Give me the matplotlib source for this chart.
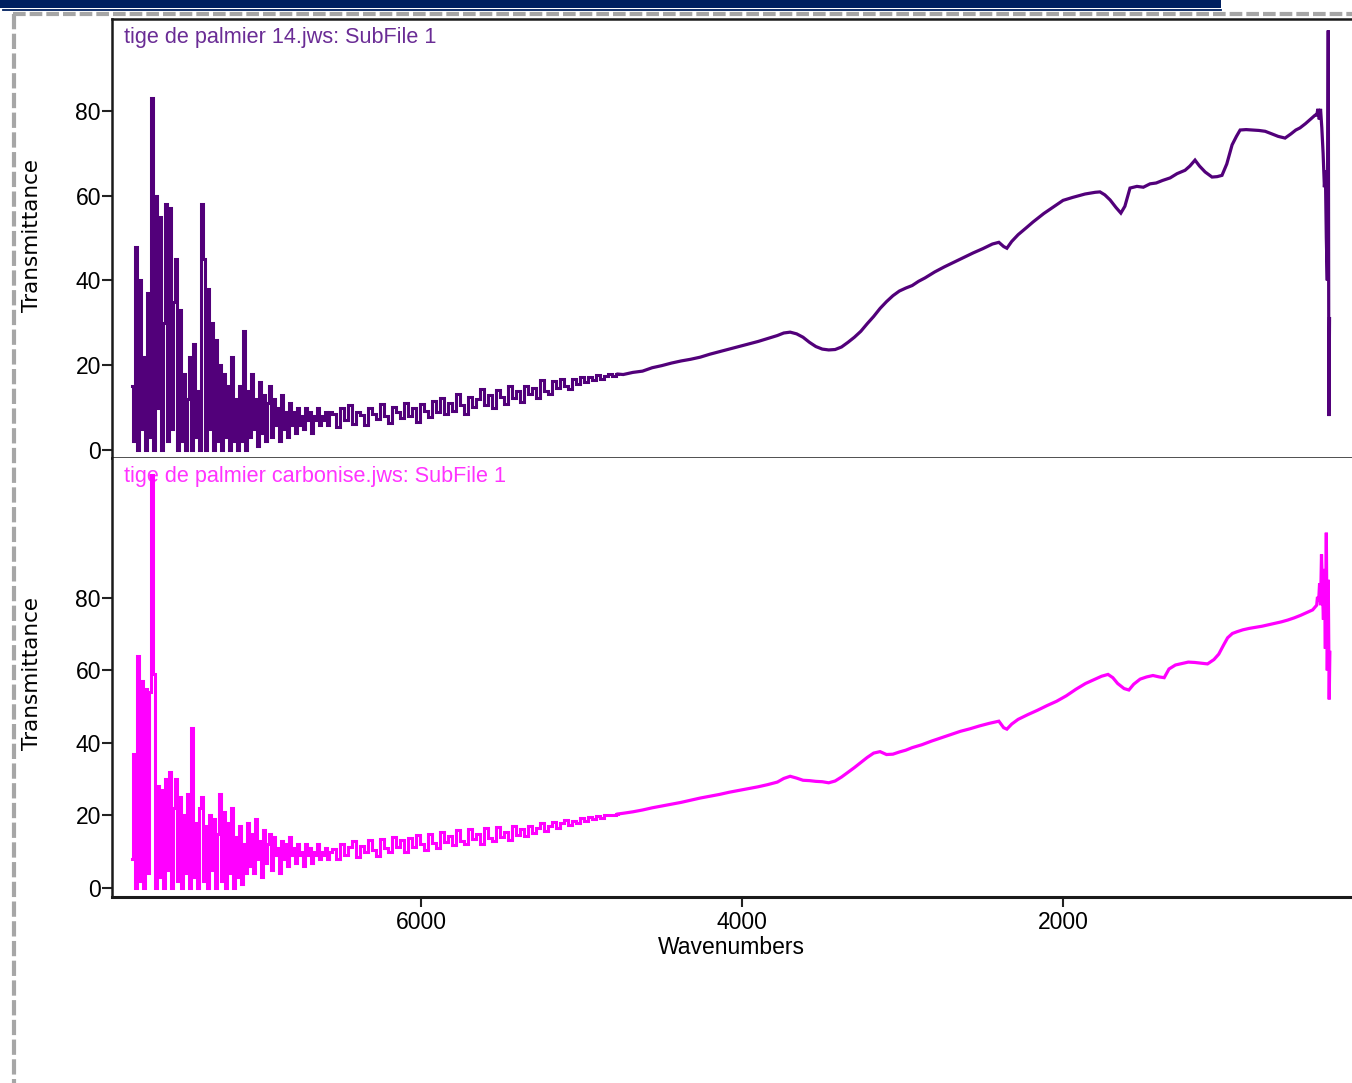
import numpy as np
import matplotlib
matplotlib.use("Agg")
import matplotlib.pyplot as plt
from matplotlib.lines import Line2D
from matplotlib.patches import Rectangle
from matplotlib import font_manager as fm

# ---------------------------------------------------------------- data
# Sample 1: raw palm stem (tige de palmier 14)
# noisy NIR region, evenly sampled between the given wavenumber bounds
top_a_range = (7800, 7090)
top_a = [15, 2, 48, 0, 40, 5, 22, 0, 37, 3, 83, 0, 60, 10, 55, 0, 30, 58, 2, 57,
         5, 35, 45, 0, 33, 2, 18, 0, 12, 22, 0, 25, 3, 14, 0, 58, 45, 0, 38, 5,
         30, 0, 26, 2, 20, 0, 18, 3, 15, 0, 22, 2, 12, 0, 15, 2, 28, 0]
top_b_range = (7078, 6567)
top_b = [14, 3, 18, 5, 12, 1, 16, 4, 13, 2, 11, 15, 3, 12, 6, 10, 2, 13, 5, 9,
         3, 11, 6, 9, 4, 10, 6, 8, 5, 10, 7, 9, 4, 8, 7, 10, 6, 8, 7, 9, 6, 9]
top_c_range = (6542, 4773)
top_c = [8.5, 5.5, 9.8, 7.0, 10.5, 6.2, 9.0, 8.3, 5.8, 9.9,
         8.6, 7.2, 10.8, 8.0, 6.4, 10.2, 8.9, 7.5, 11.0, 7.9,
         9.8, 6.6, 10.9, 9.2, 7.8, 11.6, 9.0, 12.3, 8.4, 11.0,
         9.1, 13.2, 10.5, 8.6, 12.4, 10.2, 12.0, 14.3, 10.6, 13.0,
         10.0, 14.2, 12.4, 10.8, 15.0, 12.2, 13.9, 11.2, 15.2, 13.3,
         14.6, 12.2, 16.4, 14.0, 13.2, 16.3, 14.6, 16.8, 15.1, 14.4,
         16.8, 15.5, 17.3, 16.0, 17.2, 16.4, 17.6, 16.8, 17.4, 17.9,
         17.4, 17.9]
# mid-IR region
top_d_wn = [4740, 4680, 4620, 4560, 4500, 4440, 4380, 4320, 4260, 4200,
            4140, 4080, 4020, 3960, 3900, 3840, 3780, 3740, 3700, 3660,
            3620, 3580, 3540, 3500, 3460, 3420, 3380, 3340, 3300, 3260,
            3220, 3180, 3140, 3100, 3060, 3020, 2980, 2940, 2900, 2860,
            2800, 2740, 2680, 2620, 2560, 2500, 2440, 2400, 2370, 2350,
            2320, 2280, 2230, 2187, 2120, 2062, 2000, 1940, 1863, 1800,
            1770, 1740, 1707, 1670, 1640, 1615, 1583, 1540, 1500, 1458,
            1420, 1380, 1333, 1290, 1240, 1210, 1178, 1150, 1115, 1072,
            1040, 1010, 980, 947, 920, 897, 860, 820, 780, 741,
            700, 660, 617, 580, 550, 524, 490, 460, 430,
            420, 412, 404, 396, 388, 380, 372, 366, 360, 354, 348, 344, 340]
top_d = [17.8, 18.3, 18.6, 19.4, 19.9, 20.5, 21.0, 21.4, 21.9, 22.6,
         23.2, 23.8, 24.4, 25.0, 25.6, 26.3, 27.0, 27.6, 27.8, 27.4,
         26.6, 25.4, 24.4, 23.8, 23.6, 23.7, 24.3, 25.4, 26.6, 28.0,
         29.8, 31.5, 33.4, 35.0, 36.4, 37.5, 38.2, 38.8, 39.8, 40.6,
         42.0, 43.2, 44.3, 45.4, 46.5, 47.5, 48.6, 49.0, 48.0, 47.6,
         49.2, 50.8, 52.4, 53.8, 55.8, 57.3, 58.9, 59.6, 60.4, 60.8,
         60.9, 60.2, 59.0, 57.2, 55.9, 57.5, 61.8, 62.2, 62.0, 62.8,
         63.0, 63.6, 64.2, 65.2, 66.0, 67.0, 68.4, 67.0, 65.6, 64.4,
         64.5, 64.8, 67.5, 72.0, 74.0, 75.5, 75.6, 75.5, 75.4, 75.2,
         74.6, 74.0, 73.6, 74.6, 75.5, 76.0, 77.0, 78.0, 79.0,
         79.0, 80.5, 78.0, 80.5, 76.0, 70.0, 62.0, 66.0, 50.0, 40.0, 99.0, 8.0, 31.0]

# Sample 2: carbonised palm stem (tige de palmier carbonise)
bot_a_range = (7800, 7090)
bot_a = [8, 37, 0, 64, 2, 57, 0, 55, 4, 54, 114, 59, 0, 28, 3, 27, 0, 30, 5, 32,
         0, 22, 30, 2, 25, 0, 20, 4, 26, 0, 44, 3, 18, 0, 22, 25, 2, 17, 0, 20,
         5, 19, 0, 15, 26, 2, 21, 0, 18, 4, 22, 0, 14, 3, 17, 1, 12, 4]
bot_b_range = (7078, 6567)
bot_b = [18, 6, 15, 4, 19, 8, 13, 3, 16, 7, 12, 15, 5, 14, 9, 11, 4, 13, 8, 12,
         6, 14, 9, 11, 7, 12, 9, 10, 6, 12, 9, 11, 7, 10, 9, 12, 8, 10, 9, 11, 8, 10]
bot_c_range = (6542, 4773)
bot_c = [10.8, 8.0, 12.2, 9.0, 11.4, 13.0, 8.6, 11.6, 9.8, 13.2,
         10.6, 8.9, 13.4, 11.0, 9.8, 14.0, 11.4, 13.2, 10.0, 13.8,
         11.4, 14.6, 12.0, 10.4, 15.0, 12.4, 11.0, 15.4, 12.6, 14.2,
         11.8, 16.0, 13.0, 12.0, 16.2, 13.4, 15.0, 12.2, 16.6, 13.8,
         13.0, 16.8, 14.0, 15.4, 13.2, 17.0, 14.6, 16.2, 14.2, 17.2,
         15.2, 16.4, 17.8, 15.6, 17.0, 18.2, 16.6, 17.8, 18.8, 17.4,
         18.6, 18.0, 19.2, 18.4, 19.5, 19.0, 19.8, 19.2, 20.0, 20.2,
         20.0, 20.4]
bot_d_wn = [4740, 4680, 4620, 4560, 4500, 4440, 4380, 4320, 4260, 4200,
            4140, 4080, 4020, 3960, 3900, 3840, 3780, 3740, 3700, 3660,
            3620, 3580, 3540, 3500, 3460, 3420, 3380, 3340, 3300, 3260,
            3220, 3180, 3140, 3100, 3060, 3020, 2980, 2940, 2880, 2820,
            2760, 2700, 2640, 2580, 2520, 2460, 2400, 2370, 2350, 2320,
            2280, 2220, 2160, 2100, 2040, 1980, 1920, 1860, 1800, 1760,
            1720, 1690, 1660, 1620, 1590, 1560, 1520, 1480, 1440, 1400,
            1370, 1340, 1300, 1260, 1220, 1180, 1140, 1100, 1060, 1030,
            1000, 975, 945, 915, 880, 840, 800, 760, 720, 680,
            640, 600, 560, 520, 480, 445, 420,
            415, 408, 402, 396, 390, 384, 378, 372, 366, 360, 354, 348, 342, 338]
bot_d = [20.6, 21.0, 21.5, 22.1, 22.6, 23.1, 23.6, 24.2, 24.8, 25.3,
         25.8, 26.4, 26.9, 27.4, 27.9, 28.5, 29.2, 30.2, 30.8, 30.3,
         29.7, 29.6, 29.4, 29.3, 29.0, 29.5, 30.6, 31.9, 33.2, 34.6,
         36.0, 37.2, 37.6, 36.8, 36.9, 37.5, 38.0, 38.7, 39.5, 40.5,
         41.4, 42.3, 43.2, 43.9, 44.7, 45.4, 46.0, 44.2, 43.8, 45.2,
         46.5, 47.8, 49.0, 50.3, 51.5, 53.0, 54.8, 56.4, 57.6, 58.4,
         58.9, 58.0, 56.4, 55.0, 54.6, 56.2, 57.6, 58.2, 58.6, 58.2,
         58.0, 60.4, 61.5, 61.9, 62.3, 62.2, 62.0, 61.8, 63.0, 64.5,
         67.0, 69.0, 70.2, 70.7, 71.2, 71.6, 71.9, 72.2, 72.6, 73.0,
         73.4, 73.9, 74.5, 75.2, 76.0, 76.7, 78.0,
         80.3, 79.0, 84.0, 78.0, 92.0, 82.0, 74.0, 88.0, 66.0, 98.0, 60.0, 85.0, 52.0, 65.0]

yticks = [0, 20, 40, 60, 80]
xticks = [6000, 4000, 2000]
titles = ["tige de palmier 14.jws: SubFile 1", "tige de palmier carbonise.jws: SubFile 1"]
line_colors = ["#52007a", "#ff00ff"]
title_colors = ["#6a2c95", "#ff33ff"]


def assemble(a_rng, a, b_rng, b, c_rng, c, d_wn, d):
    """Join the evenly sampled noisy part and the mid-IR part into one spectrum."""
    noisy_wn = np.concatenate([np.linspace(*a_rng, len(a)), np.linspace(*b_rng, len(b)),
                               np.linspace(*c_rng, len(c))])
    noisy_val = np.concatenate([a, b, c]).astype(float)
    return noisy_wn, noisy_val, np.asarray(d_wn, float), np.asarray(d, float)


top_parts = assemble(top_a_range, top_a, top_b_range, top_b, top_c_range, top_c, top_d_wn, top_d)
bot_parts = assemble(bot_a_range, bot_a, bot_b_range, bot_b, bot_c_range, bot_c, bot_d_wn, bot_d)

# ---------------------------------------------------------------- fonts
available = {f.name for f in fm.fontManager.ttflist}
if "Liberation Sans Narrow" in available:
    narrow, nsize, tsize = "Liberation Sans Narrow", 20, 18.5
else:
    narrow, nsize, tsize = "Liberation Sans", 16.5, 15.6
label_font = "DejaVu Sans"
plt.rcParams["lines.scale_dashes"] = False

# ---------------------------------------------------------------- figure
W, H = 1352, 1083
fig = plt.figure(figsize=(W / 100, H / 100), dpi=100)
fig.patch.set_facecolor("white")


def fx(px):
    return px / W


def fy(py):
    return 1 - py / H


ax1 = fig.add_axes([fx(112), fy(458), 1 - fx(112), fy(19) - fy(458)])
ax2 = fig.add_axes([fx(112), fy(897), 1 - fx(112), fy(458) - fy(897)])

panels = [(ax1, top_parts, (-1.9, 101.7)), (ax2, bot_parts, (-2.5, 118.6))]
for i, (ax, (nwn, nval, dwn, dval), ylim) in enumerate(panels):
    # noisy overtone region drawn as a sampled (stepped) trace
    ax.plot(nwn, nval, color=line_colors[i], lw=2.2, drawstyle="steps-mid",
            solid_joinstyle="miter")
    # smooth fundamental region, continuing from the last noisy sample
    ax.plot(np.r_[nwn[-1], dwn], np.r_[nval[-1], dval], color=line_colors[i], lw=2.3,
            solid_joinstyle="miter")
    ax.set_xlim(7925, 200)
    ax.set_ylim(*ylim)
    ax.set_yticks(yticks)
    ax.set_yticklabels([str(t) for t in yticks], fontfamily=narrow, fontsize=nsize)
    ax.tick_params(axis="y", direction="out", length=7, width=1.5, pad=1, color="#222222")
    ax.spines["right"].set_visible(False)
    for s in ("left", "top", "bottom"):
        ax.spines[s].set_color("#1a1a1a")
        ax.spines[s].set_linewidth(1.8)
    ax.text((124 - 112) / 1240, 0.958, titles[i], transform=ax.transAxes,
            ha="left", va="center", color=title_colors[i],
            fontfamily=narrow, fontsize=tsize, zorder=1)

ax1.set_xticks([])
ax2.spines["top"].set_visible(False)
ax2.spines["bottom"].set_linewidth(2.2)
ax2.set_xticks(xticks)
ax2.set_xticklabels([str(t) for t in xticks], fontfamily=narrow, fontsize=nsize)
ax2.tick_params(axis="x", direction="out", length=7, width=1.5, pad=3, color="#222222")

fig.text(fx(32), fy(235), "Transmittance", rotation=90, ha="center", va="center",
         fontfamily=label_font, fontsize=15.5)
fig.text(fx(32), fy(673), "Transmittance", rotation=90, ha="center", va="center",
         fontfamily=label_font, fontsize=15.5)
fig.text(fx(731), fy(948), "Wavenumbers", ha="center", va="center",
         fontfamily=narrow, fontsize=nsize)

# ---------------------------------------------------------------- page frame
navy = "#002060"
fig.add_artist(Rectangle((0, fy(7.5)), fx(1221), fy(0) - fy(7.5),
                         transform=fig.transFigure, color=navy, lw=0))
fig.add_artist(Line2D([fx(3), fx(1221)], [fy(9.8), fy(9.8)], transform=fig.transFigure,
                      color=navy, lw=1.3))
fig.add_artist(Line2D([fx(13), fx(1352)], [fy(14), fy(14)], transform=fig.transFigure,
                      color="#a6a6a6", lw=3.0, dashes=(9.1, 2.9)))
fig.add_artist(Line2D([fx(13.5), fx(13.5)], [fy(14), fy(1083)], transform=fig.transFigure,
                      color="#a6a6a6", lw=3.0, dashes=(11.0, 3.2)))

fig.savefig("out.png", dpi=100, facecolor="white")
